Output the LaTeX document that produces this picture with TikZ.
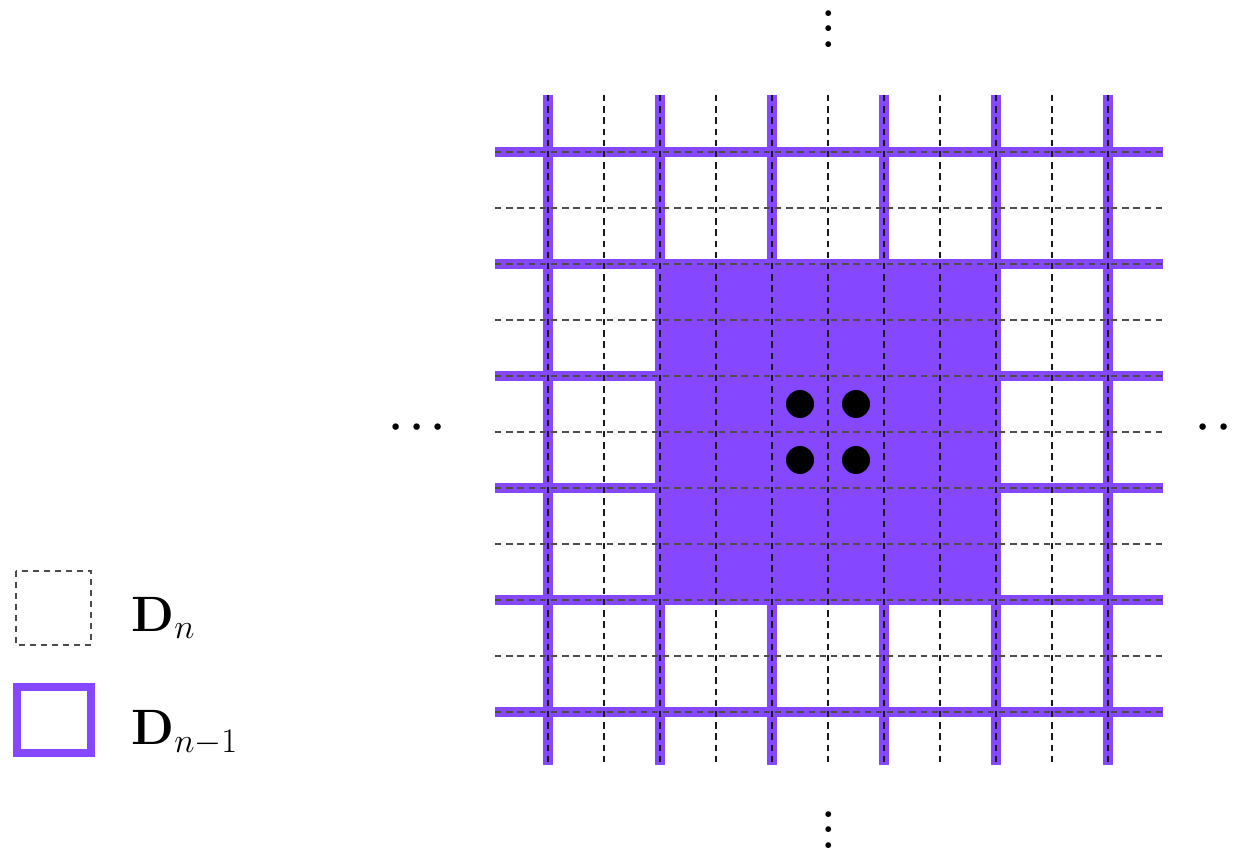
\documentclass[tikz,border=0pt]{standalone}
\usepackage{amsmath}
\definecolor{vio}{RGB}{133,71,255}
\newcommand\myvdots{\vbox{\baselineskip7.7pt\lineskiplimit0pt\hbox{\textbf{.}}\hbox{\textbf{.}}\hbox{\textbf{.}}}}
\begin{document}
\begin{tikzpicture}[x=0.5pt,y=-0.5pt,
  thick grid/.style={draw=vio,line width=5pt},
  fine grid/.style={draw=black!90,line width=1.2pt,dash pattern=on 3.2pt off 2.4pt},
  fine gridh/.style={draw=black!70,line width=1.2pt,dash pattern=on 3.2pt off 2.4pt},
  dotnode/.style={circle,fill=black,minimum size=14pt,inner sep=0pt},
  ellip/.style={font=\fontsize{20}{24}\selectfont\boldmath,inner sep=0pt},
  lbl/.style={font=\fontsize{23}{28}\selectfont,anchor=west,inner sep=0pt}]
\useasboundingbox (0,0) rectangle (1239,849);
% filled region
\fill[vio] (660,264) rectangle (996,600);
% thick purple lines
\foreach \i in {0,...,5}{
  \draw[thick grid] (548+112*\i,95) -- (548+112*\i,765);
  \draw[thick grid] (495,152+112*\i) -- (1163,152+112*\i);
}
% fine dashed grid
\foreach \i in {0,...,10}{
  \draw[fine grid] (548+56*\i,95) -- (548+56*\i,765);
  \draw[fine gridh] (495,152+56*\i) -- (1163,152+56*\i);
}
% dots
\node[dotnode] (d1) at (800,404) {};
\node[dotnode] (d2) at (856,404) {};
\node[dotnode] (d3) at (800,460) {};
\node[dotnode] (d4) at (856,460) {};
% ellipses
\node[ellip] (top) at (829,29) {\myvdots};
\node[ellip] (bot) at (829,830) {\myvdots};
\node[ellip] (left) at (421,428) {$\cdots$};
\node[ellip] (right) at (1228,428) {$\cdots$};
% legend
\draw[draw=black!70,line width=1pt,dash pattern=on 3pt off 2.5pt] (16,571) rectangle (91,645);
\draw[draw=vio,line width=4pt] (17,687) rectangle (91,753);
\node[lbl] (ln) at (131,618) {$\mathbf{D}_n$};
\node[lbl] (ln1) at (131,733) {$\mathbf{D}_{n-1}$};
\end{tikzpicture}
\end{document}
